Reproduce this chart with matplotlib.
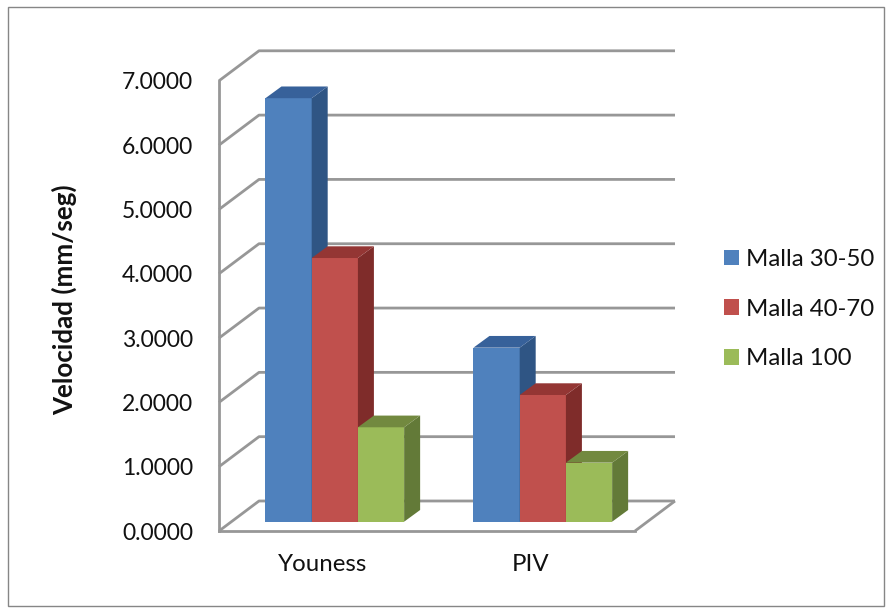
import matplotlib
matplotlib.use('Agg')
import numpy as np
import matplotlib.pyplot as plt
from matplotlib.patches import Rectangle
from matplotlib.ticker import FormatStrFormatter

plt.rcParams['font.family'] = ['Lato', 'DejaVu Sans']

categories = ['Youness', 'PIV']
malla_30_50 = [6.585, 2.706]
malla_40_70 = [4.10, 1.97]
malla_100 = [1.468, 0.918]
y_ticks = [0, 1, 2, 3, 4, 5, 6, 7]

W, H = 888, 609
PX_X = 208.0    # pixels per category
PX_Y = 64.3     # pixels per unit

# oblique projection, everything in data units
wall_dx, wall_dy = 40 / PX_X, 30 / PX_Y
bar_dx, bar_dy = 16 / PX_X, 11.7 / PX_Y
off_x, off_y = 11.8 / PX_X, 9.3 / PX_Y
bar_w = 1 / 4.5
grid_c = '#979797'

series = [
    (malla_30_50, 'Malla 30-50', '#4F81BD', '#2F5584', '#37619A'),
    (malla_40_70, 'Malla 40-70', '#C0504D', '#7F2C2A', '#943634'),
    (malla_100, 'Malla 100', '#9BBB59', '#637A38', '#72893F'),
]


def main():
    fig = plt.figure(figsize=(W / 100, H / 100), dpi=100)
    ax = fig.add_axes([219 / W, (H - 531) / H, 416 / W, 450.2 / H])
    ax.set_xlim(-0.5, 1.5)
    ax.set_ylim(0, 7)
    ax.patch.set_alpha(0)

    draw_walls(ax)
    x = np.arange(len(categories)) + off_x
    for i, (vals, label, front, side, top) in enumerate(series):
        pos = x + (i - 1) * bar_w
        ax.bar(pos, vals, bar_w, bottom=off_y, color=front, label=label,
               clip_on=False, zorder=3 + i)
        for p, v in zip(pos, vals):
            draw_depth(ax, p, v, side, top, 3 + i)

    ax.set_xticks(range(len(categories)), categories)
    ax.set_yticks(y_ticks)
    ax.yaxis.set_major_formatter(FormatStrFormatter('%.4f'))
    ax.tick_params(axis='both', length=0, labelcolor='#111111')
    ax.tick_params(axis='y', pad=18.5, labelsize=16.5)
    ax.tick_params(axis='x', pad=16.5, labelsize=17.3)
    for s in ['top', 'right']:
        ax.spines[s].set_visible(False)
    for s in ['left', 'bottom']:
        ax.spines[s].set_color(grid_c)
        ax.spines[s].set_linewidth(2)
    ax.set_ylabel('Velocidad (mm/seg)', fontsize=18.7, fontweight='bold', color='#111111')
    ax.yaxis.set_label_coords((65 - 219 + 12) / 416, (531 - 300) / 450.2)

    ax.legend(loc='upper left', bbox_to_anchor=(724 / W, (H - 249) / H),
              bbox_transform=fig.transFigure, frameon=False, fontsize=17.3,
              handlelength=0.62, handleheight=0.62, handletextpad=0.3,
              labelspacing=1.19, borderpad=0, borderaxespad=0, labelcolor='#111111')

    fig.add_artist(Rectangle((8 / W, (H - 606) / H), 876 / W, 599 / H, fill=False,
                             edgecolor='#868686', linewidth=1,
                             transform=fig.transFigure))
    fig.savefig('out.png', dpi=100, facecolor='white')


def draw_walls(ax):
    x0, x1 = -0.5, 1.5
    for t in y_ticks:
        ax.plot([x0, x0 + wall_dx, x1 + wall_dx],
                [t, t + wall_dy, t + wall_dy],
                color=grid_c, lw=2, clip_on=False, zorder=1, solid_capstyle='butt')
    ax.plot([x1, x1 + wall_dx], [0, wall_dy], color=grid_c, lw=2, clip_on=False, zorder=1,
            solid_capstyle='butt')


def draw_depth(ax, p, v, side, top, z):
    l, r = p - bar_w / 2, p + bar_w / 2
    b, t = off_y, off_y + v
    ax.fill([r, r + bar_dx, r + bar_dx, r], [b, b + bar_dy, t + bar_dy, t],
            color=side, lw=0, clip_on=False, zorder=z)
    ax.fill([l, l + bar_dx, r + bar_dx, r], [t, t + bar_dy, t + bar_dy, t],
            color=top, lw=0, clip_on=False, zorder=z)


if __name__ == "__main__":
    main()
